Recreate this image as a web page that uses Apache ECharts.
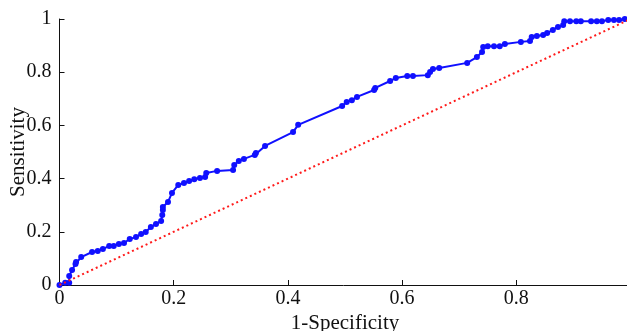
<!DOCTYPE html>
<html>
<head>
<meta charset="utf-8">
<script src="https://cdn.jsdelivr.net/npm/echarts@6/dist/echarts.min.js"></script>
<style>
  html, body { margin: 0; padding: 0; background: #fff; }
  #chart { width: 627px; height: 331px; }
</style>
</head>
<body>
<div id="chart"></div>
<script>
// ROC curve points: [1-specificity, sensitivity]
const rocPoints = [
  [0.000, 0.000], [0.010, 0.008], [0.017, 0.008], [0.017, 0.034], [0.022, 0.056],
  [0.028, 0.079], [0.029, 0.086], [0.038, 0.105], [0.057, 0.124], [0.067, 0.128],
  [0.076, 0.135], [0.087, 0.147], [0.095, 0.147], [0.104, 0.154], [0.113, 0.158],
  [0.123, 0.173], [0.134, 0.180], [0.143, 0.192], [0.151, 0.199], [0.160, 0.218],
  [0.169, 0.229], [0.178, 0.241], [0.180, 0.263], [0.181, 0.282], [0.181, 0.293],
  [0.190, 0.312], [0.197, 0.346], [0.208, 0.376], [0.218, 0.383], [0.227, 0.391],
  [0.236, 0.398], [0.246, 0.402], [0.255, 0.406], [0.257, 0.421], [0.276, 0.429],
  [0.304, 0.432], [0.306, 0.451], [0.314, 0.466], [0.323, 0.474], [0.342, 0.489],
  [0.344, 0.496], [0.360, 0.523], [0.409, 0.575], [0.418, 0.602], [0.495, 0.673],
  [0.503, 0.688], [0.512, 0.695], [0.521, 0.707], [0.551, 0.733], [0.553, 0.741],
  [0.579, 0.767], [0.589, 0.778], [0.609, 0.786], [0.619, 0.786], [0.645, 0.789],
  [0.649, 0.801], [0.654, 0.812], [0.665, 0.816], [0.714, 0.835], [0.731, 0.857],
  [0.740, 0.876], [0.742, 0.895], [0.750, 0.898], [0.761, 0.898], [0.771, 0.898],
  [0.780, 0.906], [0.808, 0.914], [0.824, 0.917], [0.827, 0.932], [0.836, 0.936],
  [0.847, 0.940], [0.854, 0.947], [0.864, 0.959], [0.873, 0.970], [0.882, 0.977],
  [0.884, 0.992], [0.894, 0.992], [0.905, 0.992], [0.913, 0.992], [0.931, 0.992],
  [0.941, 0.992], [0.950, 0.992], [0.961, 0.996], [0.971, 0.996], [0.980, 0.996],
  [0.990, 1.000],
];

// chance line
const diagonal = [[0, 0], [1, 1]];

const xLabel = '1-Specificity';
const yLabel = 'Sensitivity';

const FONT = '"Liberation Serif", "DejaVu Serif", serif';
const INK = '#111';

const chart = echarts.init(document.getElementById('chart'), null, { renderer: 'canvas' });

const axisCommon = {
  type: 'value',
  min: 0,
  max: 1,
  interval: 0.2,
  nameLocation: 'middle',
  nameMoveOverlap: false,
  nameTextStyle: { color: INK, fontSize: 21, fontFamily: FONT },
  axisLine: { show: true, lineStyle: { color: INK, width: 1 } },
  axisTick: { show: true, inside: true, length: 5, lineStyle: { color: INK } },
  splitLine: { show: false },
};

chart.setOption({
  backgroundColor: '#FFFFFF',
  animation: false,
  // fixed plot box; x = 1 sits just past the right edge, like the source
  grid: { left: 59.5, right: -3.5, top: 19, bottom: 46, containLabel: false, outerBoundsMode: 'none' },
  xAxis: {
    ...axisCommon,
    name: xLabel,
    nameGap: 28,
    axisLabel: {
      color: INK, fontSize: 20, fontFamily: FONT, margin: 4,
      showMaxLabel: false,
      formatter: (v) => String(+v.toFixed(1)),
    },
  },
  yAxis: {
    ...axisCommon,
    name: yLabel,
    nameGap: 31,
    axisLabel: {
      color: INK, fontSize: 20, fontFamily: FONT, margin: 8,
      formatter: (v) => String(+v.toFixed(1)),
    },
  },
  series: [
    {
      name: 'ROC',
      type: 'line',
      data: rocPoints,
      clip: false,
      symbol: 'circle',
      symbolSize: 6,
      lineStyle: { color: '#1010FF', width: 2 },
      itemStyle: { color: '#1010FF' },
      z: 2,
    },
    {
      name: 'Chance',
      type: 'line',
      data: diagonal,
      symbol: 'none',
      lineStyle: { color: '#FF1A1A', width: 2, type: [2, 3] },
      z: 3,
    },
  ],
});
</script>
</body>
</html>
